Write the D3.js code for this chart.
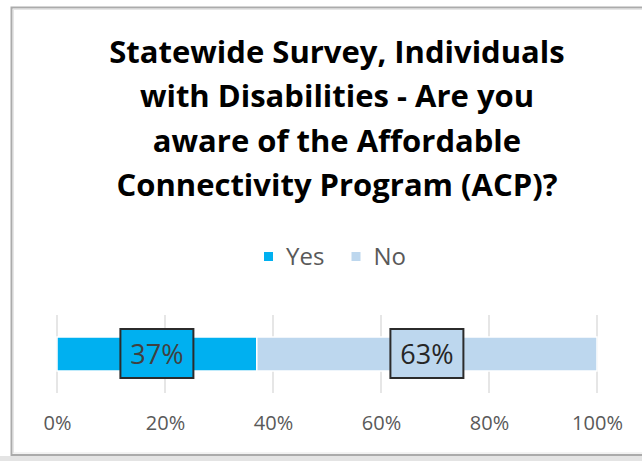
<!DOCTYPE html>
<html><head><meta charset="utf-8">
<script src="https://cdn.jsdelivr.net/npm/d3@7/dist/d3.min.js"></script>
<style>html,body{margin:0;padding:0;background:#fff;}svg{display:block;}</style>
</head><body>
<svg id="chart" width="642" height="461"></svg>
<script>
const titleLines = ["Statewide Survey, Individuals", "with Disabilities - Are you", "aware of the Affordable", "Connectivity Program (ACP)?"];
const categories = ["Yes", "No"];
const values = [0.37, 0.63];
const colors = ["#00B0F0", "#BDD7EE"];
const labelColors = ["#404040", "#262626"];
const tickValues = [0, 0.2, 0.4, 0.6, 0.8, 1.0];

const svg = d3.select("#chart");
const W = 642, H = 461;

// background strip and frame
svg.append("rect").attr("x",0).attr("y",456).attr("width",W).attr("height",H-456).attr("fill","#e4e4e4");
svg.append("rect").attr("x",11.5).attr("y",7.5).attr("width",700).attr("height",447.5)
  .attr("fill","#fff").attr("stroke","#ababab").attr("stroke-width",2);
svg.append("rect").attr("x",13.5).attr("y",9.5).attr("width",700).attr("height",443.5)
  .attr("fill","none").attr("stroke","#e6e6e6").attr("stroke-width",1);

// title
const title = svg.append("text").attr("text-anchor","middle")
  .attr("font-family","'Open Sans', sans-serif").attr("font-weight","bold")
  .attr("font-size",31).attr("fill","#000");
titleLines.forEach((t,i)=>{
  title.append("tspan").attr("x",337).attr("y",63 + i*44.3).text(t);
});

// legend
const legend = svg.append("g").attr("font-family","'Open Sans', sans-serif").attr("font-size",24).attr("fill","#595959");
const legendX = [264, 351.5];
categories.forEach((c,i)=>{
  legend.append("rect").attr("x",legendX[i]).attr("y",252).attr("width",9).attr("height",9).attr("fill",colors[i]);
  legend.append("text").attr("x",legendX[i]+22).attr("y",265).text(c);
});

// scales
const x = d3.scaleLinear().domain([0,1]).range([57,597]);
const barY = 337, barH = 34;

// gridlines
svg.append("g").selectAll("line").data(tickValues).join("line")
  .attr("x1",d=>x(d)).attr("x2",d=>x(d)).attr("y1",315).attr("y2",393)
  .attr("stroke","#d9d9d9").attr("stroke-width",1.3);

// stacked bars
const stacks = [];
let acc = 0;
values.forEach((v,i)=>{ stacks.push({cat:categories[i], x0:acc, x1:acc+v, v:v, i:i}); acc += v; });

svg.append("g").selectAll("rect").data(stacks).join("rect")
  .attr("x",d=>x(d.x0)).attr("y",barY).attr("width",d=>x(d.x1)-x(d.x0)).attr("height",barH)
  .attr("fill",d=>colors[d.i]).attr("stroke","#fff").attr("stroke-width",1.5);

// data labels
const lab = svg.append("g");
stacks.forEach(d=>{
  const cx = (x(d.x0)+x(d.x1))/2;
  lab.append("rect").attr("x",cx-36.5).attr("y",329).attr("width",73).attr("height",49)
    .attr("fill",colors[d.i]).attr("stroke","#2b2b2b").attr("stroke-width",2);
  lab.append("text").attr("x",cx).attr("y",364).attr("text-anchor","middle")
    .attr("font-family","'Open Sans', sans-serif").attr("font-size",27).attr("fill",labelColors[d.i])
    .text(d3.format(".0%")(d.v));
});

// axis
const axis = d3.axisBottom(x).tickValues(tickValues).tickFormat(d3.format(".0%")).tickSize(0).tickPadding(0);
const ag = svg.append("g").attr("transform","translate(0,416)").call(axis);
ag.select(".domain").remove();
ag.selectAll("text").attr("font-family","'Open Sans', sans-serif").attr("font-size",20).attr("fill","#595959");
</script>
</body></html>
